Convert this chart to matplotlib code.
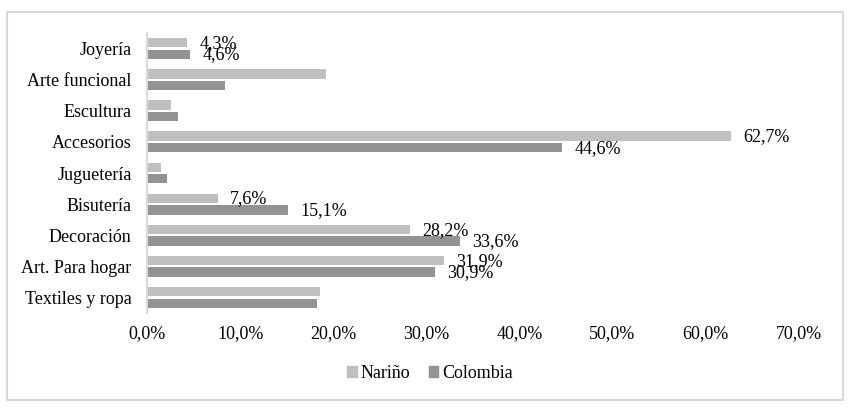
import matplotlib
matplotlib.use("Agg")
import matplotlib.pyplot as plt
from matplotlib.patches import Rectangle, Patch
from matplotlib.ticker import FuncFormatter, MultipleLocator
import numpy as np

plt.rcParams['font.family'] = ['Liberation Serif', 'DejaVu Serif']

categories = ["Joyería", "Arte funcional", "Escultura", "Accesorios", "Juguetería",
              "Bisutería", "Decoración", "Art. Para hogar", "Textiles y ropa"]
narino = [4.3, 19.2, 2.6, 62.7, 1.5, 7.6, 28.2, 31.9, 18.6]
colombia = [4.6, 8.4, 3.3, 44.6, 2.1, 15.1, 33.6, 30.9, 18.3]
narino_labels = ["4,3%", None, None, "62,7%", None, "7,6%", "28,2%", "31,9%", None]
colombia_labels = ["4,6%", None, None, "44,6%", None, "15,1%", "33,6%", "30,9%", None]
series_names = ["Nariño", "Colombia"]
colors = ["#bfbfbf", "#939393"]

fig = plt.figure(figsize=(8.54, 4.09), dpi=100)
ax = fig.add_axes([147 / 854, 1 - 313 / 409, 651.7 / 854, 280 / 409])

y = np.arange(len(categories))
h = 0.30
off = 0.185
ax.barh(y - off, narino, height=h, color=colors[0], zorder=2)
ax.barh(y + off, colombia, height=h, color=colors[1], zorder=2)

for yi, v, lab in zip(y, narino, narino_labels):
    if lab:
        ax.annotate(lab, (v, yi - off), xytext=(9, -0.5), textcoords="offset points",
                    va="center", ha="left", fontsize=13, zorder=3)
for yi, v, lab in zip(y, colombia, colombia_labels):
    if lab:
        ax.annotate(lab, (v, yi + off), xytext=(9, -0.5), textcoords="offset points",
                    va="center", ha="left", fontsize=13, zorder=3)

ax.set_xlim(0, 70)
ax.set_ylim(len(categories) - 0.5, -0.5)
ax.set_yticks(y)
ax.set_yticklabels(categories, fontsize=13)
ax.xaxis.set_major_locator(MultipleLocator(10))
ax.xaxis.set_major_formatter(FuncFormatter(lambda v, p: f"{v:.1f}".replace(".", ",") + "%"))
ax.tick_params(axis="x", length=0, labelsize=13, pad=9)
ax.tick_params(axis="y", length=0, pad=11)
for s in ["top", "right", "bottom"]:
    ax.spines[s].set_visible(False)
ax.spines["left"].set_color("#d9d9d9")
ax.spines["left"].set_linewidth(1.5)
ax.set_facecolor("none")

fig.patches.append(Rectangle((7.5 / 854, 1 - 400 / 409), 835.5 / 854, 388.5 / 409,
                             transform=fig.transFigure, fill=False,
                             edgecolor="#d9d9d9", linewidth=1.5))

handles = [Patch(color=c) for c in colors]
fig.legend(handles, series_names, loc="center", bbox_to_anchor=(430 / 854, 1 - 373 / 409),
           ncol=2, frameon=False, fontsize=13, handlelength=0.55, handleheight=0.55,
           handletextpad=0.2, columnspacing=1.0)

fig.savefig("out.png", dpi=100)
